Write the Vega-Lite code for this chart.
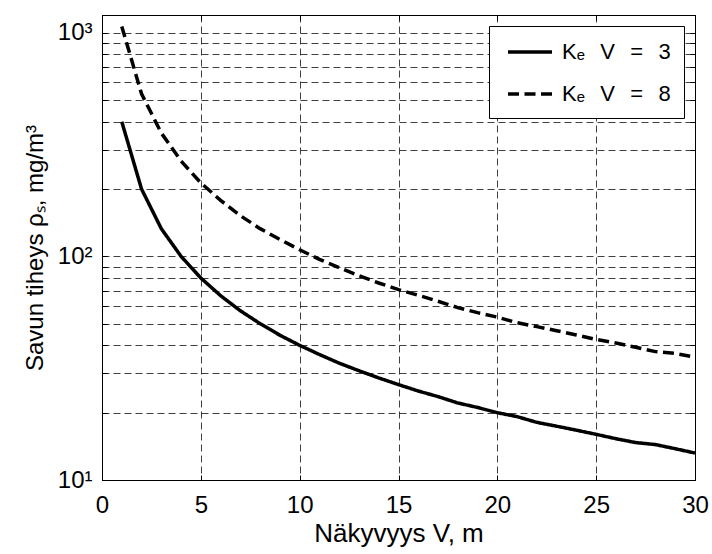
{
  "$schema": "https://vega.github.io/schema/vega-lite/v6.json",
  "width": 593,
  "height": 465,
  "autosize": "none",
  "padding": {"left": 102, "top": 15, "right": 17, "bottom": 74},
  "background": "white",
  "config": {
    "font": "Liberation Sans",
    "view": {"stroke": "black", "strokeWidth": 1},
    "axis": {
      "labelColor": "black",
      "titleColor": "black",
      "tickColor": "black",
      "domainColor": "black",
      "gridColor": "black",
      "gridOpacity": 0.75,
      "gridWidth": 1,
      "gridDash": [7, 4],
      "labelFontSize": 24,
      "titleFontWeight": "normal",
      "tickSize": -5,
      "labelFlush": false
    }
  },
  "data": {
    "values": [
      {"V": 1, "rho": 400, "series": "Kₑ V = 3"},
      {"V": 2, "rho": 200, "series": "Kₑ V = 3"},
      {"V": 3, "rho": 133, "series": "Kₑ V = 3"},
      {"V": 4, "rho": 100, "series": "Kₑ V = 3"},
      {"V": 5, "rho": 80, "series": "Kₑ V = 3"},
      {"V": 6, "rho": 66.7, "series": "Kₑ V = 3"},
      {"V": 7, "rho": 57.1, "series": "Kₑ V = 3"},
      {"V": 8, "rho": 50, "series": "Kₑ V = 3"},
      {"V": 9, "rho": 44.4, "series": "Kₑ V = 3"},
      {"V": 10, "rho": 40, "series": "Kₑ V = 3"},
      {"V": 11, "rho": 36.4, "series": "Kₑ V = 3"},
      {"V": 12, "rho": 33.3, "series": "Kₑ V = 3"},
      {"V": 13, "rho": 30.8, "series": "Kₑ V = 3"},
      {"V": 14, "rho": 28.6, "series": "Kₑ V = 3"},
      {"V": 15, "rho": 26.7, "series": "Kₑ V = 3"},
      {"V": 16, "rho": 25, "series": "Kₑ V = 3"},
      {"V": 17, "rho": 23.6, "series": "Kₑ V = 3"},
      {"V": 18, "rho": 22.1, "series": "Kₑ V = 3"},
      {"V": 19, "rho": 21.1, "series": "Kₑ V = 3"},
      {"V": 20, "rho": 20, "series": "Kₑ V = 3"},
      {"V": 21, "rho": 19.2, "series": "Kₑ V = 3"},
      {"V": 22, "rho": 18.1, "series": "Kₑ V = 3"},
      {"V": 23, "rho": 17.4, "series": "Kₑ V = 3"},
      {"V": 24, "rho": 16.7, "series": "Kₑ V = 3"},
      {"V": 25, "rho": 16, "series": "Kₑ V = 3"},
      {"V": 26, "rho": 15.3, "series": "Kₑ V = 3"},
      {"V": 27, "rho": 14.7, "series": "Kₑ V = 3"},
      {"V": 28, "rho": 14.4, "series": "Kₑ V = 3"},
      {"V": 29, "rho": 13.8, "series": "Kₑ V = 3"},
      {"V": 30, "rho": 13.2, "series": "Kₑ V = 3"},
      {"V": 1, "rho": 1067, "series": "Kₑ V = 8"},
      {"V": 2, "rho": 533, "series": "Kₑ V = 8"},
      {"V": 3, "rho": 356, "series": "Kₑ V = 8"},
      {"V": 4, "rho": 267, "series": "Kₑ V = 8"},
      {"V": 5, "rho": 213, "series": "Kₑ V = 8"},
      {"V": 6, "rho": 178, "series": "Kₑ V = 8"},
      {"V": 7, "rho": 152, "series": "Kₑ V = 8"},
      {"V": 8, "rho": 133, "series": "Kₑ V = 8"},
      {"V": 9, "rho": 119, "series": "Kₑ V = 8"},
      {"V": 10, "rho": 107, "series": "Kₑ V = 8"},
      {"V": 11, "rho": 97, "series": "Kₑ V = 8"},
      {"V": 12, "rho": 89, "series": "Kₑ V = 8"},
      {"V": 13, "rho": 82, "series": "Kₑ V = 8"},
      {"V": 14, "rho": 76, "series": "Kₑ V = 8"},
      {"V": 15, "rho": 71, "series": "Kₑ V = 8"},
      {"V": 16, "rho": 67, "series": "Kₑ V = 8"},
      {"V": 17, "rho": 63, "series": "Kₑ V = 8"},
      {"V": 18, "rho": 59, "series": "Kₑ V = 8"},
      {"V": 19, "rho": 56, "series": "Kₑ V = 8"},
      {"V": 20, "rho": 53.5, "series": "Kₑ V = 8"},
      {"V": 21, "rho": 50.5, "series": "Kₑ V = 8"},
      {"V": 22, "rho": 48.5, "series": "Kₑ V = 8"},
      {"V": 23, "rho": 46.5, "series": "Kₑ V = 8"},
      {"V": 24, "rho": 44.5, "series": "Kₑ V = 8"},
      {"V": 25, "rho": 42.5, "series": "Kₑ V = 8"},
      {"V": 26, "rho": 41, "series": "Kₑ V = 8"},
      {"V": 27, "rho": 39.2, "series": "Kₑ V = 8"},
      {"V": 28, "rho": 37.5, "series": "Kₑ V = 8"},
      {"V": 29, "rho": 36.8, "series": "Kₑ V = 8"},
      {"V": 30, "rho": 35.4, "series": "Kₑ V = 8"}
    ]
  },
  "layer": [
    {
      "mark": {"type": "line", "color": "black", "strokeWidth": 3.5, "strokeCap": "butt", "clip": true},
      "encoding": {
        "x": {
          "field": "V",
          "type": "quantitative",
          "scale": {"domain": [0, 30], "nice": false},
          "axis": {
            "values": [0, 5, 10, 15, 20, 25, 30],
            "title": "Näkyvyys V, m",
            "titleFontSize": 26,
            "grid": true,
            "labelPadding": 18,
            "titlePadding": 3
          }
        },
        "y": {
          "field": "rho",
          "type": "quantitative",
          "scale": {"type": "log", "domain": [10, 1200], "nice": false},
          "axis": {
            "values": [10, 20, 30, 40, 50, 60, 70, 80, 90, 100, 200, 300, 400, 500, 600, 700, 800, 900, 1000],
            "labelExpr": "datum.value == 10 ? '10¹' : datum.value == 100 ? '10²' : datum.value == 1000 ? '10³' : ''",
            "title": "Savun tiheys ρₛ, mg/m³",
            "titleFontSize": 24,
            "grid": true,
            "labelPadding": 15,
            "titlePadding": 10
          }
        },
        "strokeDash": {
          "field": "series",
          "type": "nominal",
          "scale": {"domain": ["Kₑ V = 3", "Kₑ V = 8"], "range": [[1, 0], [11, 5.5]]},
          "legend": {
            "orient": "top-right",
            "offset": 11,
            "title": null,
            "strokeColor": "black",
            "fillColor": "white",
            "padding": 13,
            "symbolType": "M-2,0H2",
            "symbolSize": 484,
            "symbolOffset": 15,
            "symbolStrokeWidth": 3.5,
            "symbolStrokeColor": "black",
            "labelFontSize": 22,
            "labelColor": "black",
            "labelOffset": 19,
            "rowPadding": 18,
            "labelExpr": "replace(datum.label, regexp(' ', 'g'), '\u2002\u2009') + '\u2003\u2002'"
          }
        }
      }
    },
    {
      "mark": {"type": "line", "opacity": 0},
      "encoding": {
        "x": {
          "field": "V",
          "type": "quantitative",
          "axis": {"orient": "top", "values": [0, 5, 10, 15, 20, 25, 30], "labels": false, "title": null, "grid": false}
        },
        "y": {
          "field": "rho",
          "type": "quantitative",
          "axis": {
            "orient": "right",
            "values": [10, 20, 30, 40, 50, 60, 70, 80, 90, 100, 200, 300, 400, 500, 600, 700, 800, 900, 1000],
            "labels": false,
            "title": null,
            "grid": false
          }
        },
        "detail": {"field": "series", "type": "nominal"}
      }
    }
  ],
  "resolve": {"axis": {"x": "independent", "y": "independent"}}
}
